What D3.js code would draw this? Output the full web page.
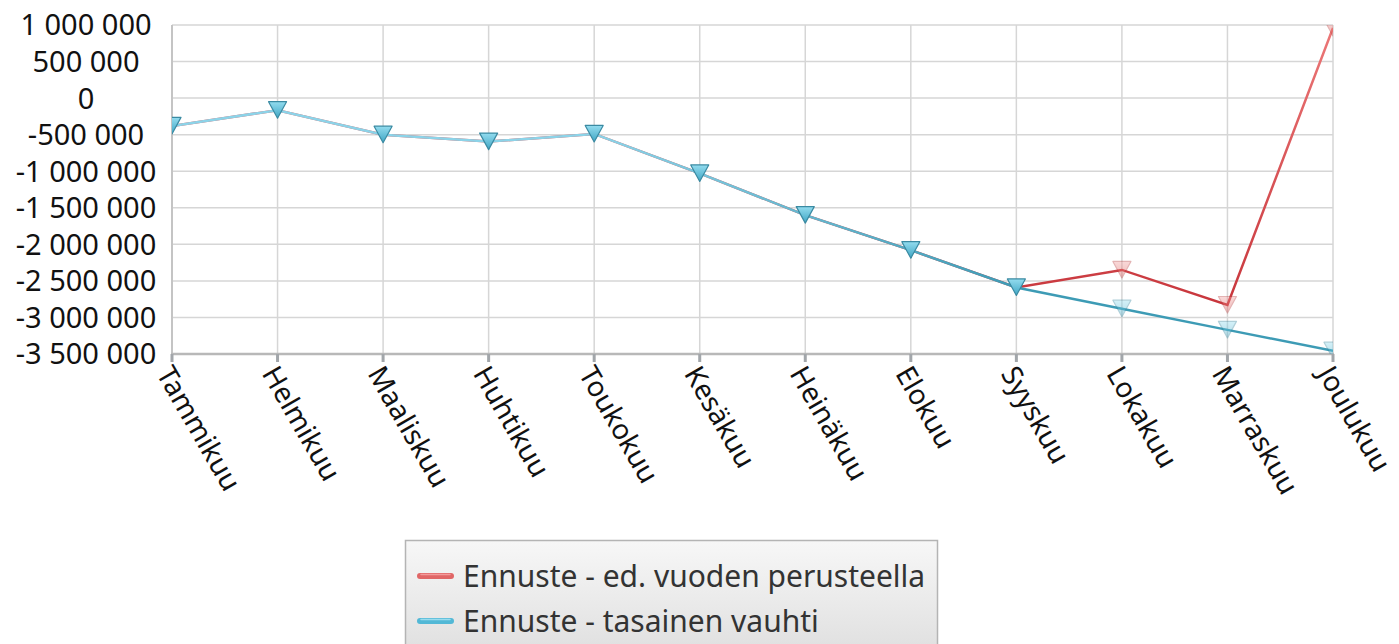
<!DOCTYPE html>
<html>
<head>
<meta charset="utf-8">
<script src="https://cdn.jsdelivr.net/npm/d3@7"></script>
<style>
  html, body { margin: 0; padding: 0; background: #fff; overflow: hidden; }
  text { font-family: "Noto Sans", "Open Sans", sans-serif; }
</style>
</head>
<body>
<svg id="chart" width="1399" height="644"></svg>
<script>
// ── Data ─────────────────────────────────────────────────────────────
const months = ['Tammikuu', 'Helmikuu', 'Maaliskuu', 'Huhtikuu', 'Toukokuu', 'Kesäkuu',
  'Heinäkuu', 'Elokuu', 'Syyskuu', 'Lokakuu', 'Marraskuu', 'Joulukuu'];

// Ennuste - ed. vuoden perusteella
const edVuosi = [-380000, -165000, -500000, -595000, -490000, -1030000,
  -1600000, -2080000, -2590000, -2350000, -2830000, 960000];

// Ennuste - tasainen vauhti
const tasainen = [-380000, -165000, -500000, -595000, -490000, -1030000,
  -1600000, -2080000, -2590000, -2880000, -3170000, -3455000];

const yTicks = [1000000, 500000, 0, -500000, -1000000, -1500000, -2000000,
  -2500000, -3000000, -3500000];

const seriesNames = ['Ennuste - ed. vuoden perusteella', 'Ennuste - tasainen vauhti'];
const firstForecast = 9; // Lokakuu onwards is forecast

// ── Layout ───────────────────────────────────────────────────────────
const svg = d3.select('#chart');
const plotL = 172, plotR = 1333, plotT = 25, plotB = 354;

const x = d3.scalePoint().domain(months).range([plotL, plotR]).padding(0);
const y = d3.scaleLinear().domain([-3500000, 1000000]).range([plotB, plotT]);

const fmt = v => d3.format(',')(v).replace(/,/g, ' ').replace('−', '-');

// ── Defs ─────────────────────────────────────────────────────────────
const defs = svg.append('defs');
defs.append('clipPath').attr('id', 'plot-clip')
  .append('rect').attr('x', plotL).attr('y', plotT)
  .attr('width', plotR - plotL).attr('height', plotB - plotT);

const blueLine = defs.append('linearGradient').attr('id', 'blue-line')
  .attr('gradientUnits', 'userSpaceOnUse')
  .attr('x1', x('Toukokuu')).attr('x2', x('Syyskuu')).attr('y1', 0).attr('y2', 0);
blueLine.append('stop').attr('offset', 0).attr('stop-color', '#8cd3e8');
blueLine.append('stop').attr('offset', 1).attr('stop-color', '#3d9bb5');

const redLine = defs.append('linearGradient').attr('id', 'red-line')
  .attr('gradientUnits', 'userSpaceOnUse')
  .attr('x1', 0).attr('x2', 0).attr('y1', y(-2800000)).attr('y2', y(1000000));
redLine.append('stop').attr('offset', 0).attr('stop-color', '#c8363c');
redLine.append('stop').attr('offset', 1).attr('stop-color', '#ec7878');

const blueMark = defs.append('linearGradient').attr('id', 'blue-mark')
  .attr('x1', 0).attr('x2', 0).attr('y1', 0).attr('y2', 1);
blueMark.append('stop').attr('offset', 0).attr('stop-color', '#93dcef');
blueMark.append('stop').attr('offset', 1).attr('stop-color', '#3fa6c4');

const redMark = defs.append('linearGradient').attr('id', 'red-mark')
  .attr('x1', 0).attr('x2', 0).attr('y1', 0).attr('y2', 1);
redMark.append('stop').attr('offset', 0).attr('stop-color', '#f2a0a0');
redMark.append('stop').attr('offset', 1).attr('stop-color', '#d9534f');

const legendBg = defs.append('linearGradient').attr('id', 'legend-bg')
  .attr('x1', 0).attr('x2', 0).attr('y1', 0).attr('y2', 1);
legendBg.append('stop').attr('offset', 0).attr('stop-color', '#f7f7f7');
legendBg.append('stop').attr('offset', 1).attr('stop-color', '#dedede');

// ── Grid ─────────────────────────────────────────────────────────────
const grid = svg.append('g');
grid.selectAll('line.h').data(yTicks).join('line')
  .attr('x1', plotL).attr('x2', plotR)
  .attr('y1', d => y(d)).attr('y2', d => y(d))
  .attr('stroke', '#d6d6d6').attr('stroke-width', 1.5);
grid.selectAll('line.v').data(months).join('line')
  .attr('x1', d => x(d)).attr('x2', d => x(d))
  .attr('y1', plotT).attr('y2', plotB)
  .attr('stroke', '#d6d6d6').attr('stroke-width', 1.5);

// axis lines
svg.append('line').attr('x1', plotL).attr('x2', plotL).attr('y1', plotT).attr('y2', plotB)
  .attr('stroke', '#c4c4c4').attr('stroke-width', 2);
svg.append('line').attr('x1', plotL - 1).attr('x2', plotR + 1).attr('y1', plotB).attr('y2', plotB)
  .attr('stroke', '#b8b8b8').attr('stroke-width', 2.5);

// x ticks
svg.append('g').selectAll('line').data(months).join('line')
  .attr('x1', d => x(d)).attr('x2', d => x(d))
  .attr('y1', plotB).attr('y2', plotB + 8)
  .attr('stroke', '#a2a6aa').attr('stroke-width', 3);

// y labels
svg.append('g').selectAll('text').data(yTicks).join('text')
  .attr('x', 86).attr('y', d => y(d))
  .attr('dy', '0.36em')
  .attr('text-anchor', 'middle')
  .attr('font-size', 29)
  .attr('fill', '#111')
  .text(d => fmt(d));

// x labels
svg.append('g').selectAll('text').data(months).join('text')
  .attr('transform', d => `translate(${x(d) + 2},${plotB + 9}) rotate(60)`)
  .attr('dy', '0.75em')
  .attr('text-anchor', 'start')
  .attr('font-size', 28)
  .attr('fill', '#111')
  .text(d => d);

// ── Series ───────────────────────────────────────────────────────────
const plot = svg.append('g').attr('clip-path', 'url(#plot-clip)');
const line = d3.line().x((d, i) => x(months[i])).y(d => y(d));

plot.append('path').datum(edVuosi)
  .attr('d', line).attr('fill', 'none')
  .attr('stroke', 'url(#red-line)').attr('stroke-width', 2.5);
plot.append('path').datum(tasainen)
  .attr('d', line).attr('fill', 'none')
  .attr('stroke', 'url(#blue-line)').attr('stroke-width', 2.5);

const tri = 'M-9,-8.5 L9,-8.5 L0,8 Z';

function markers(values, fill, stroke, from, to) {
  plot.append('g').selectAll('path')
    .data(values.map((v, i) => ({ v, i })).filter(d => d.i >= from && d.i < to))
    .join('path')
    .attr('transform', d => `translate(${x(months[d.i])},${y(d.v)})`)
    .attr('d', tri)
    .attr('fill', fill)
    .attr('stroke', stroke).attr('stroke-width', 1.2)
    .attr('stroke-linejoin', 'round')
    .attr('opacity', d => d.i >= firstForecast ? 0.4 : 1);
}

markers(edVuosi, 'url(#red-mark)', '#b44', firstForecast, months.length);
markers(tasainen, 'url(#blue-mark)', '#3a8aa2', 0, months.length);

// ── Legend ───────────────────────────────────────────────────────────
const legend = svg.append('g');
legend.append('rect')
  .attr('x', 405.5).attr('y', 540.5).attr('width', 532).attr('height', 120)
  .attr('fill', 'url(#legend-bg)').attr('stroke', '#b4b4b4').attr('stroke-width', 1.5);

const legendColors = [['#e06666', '#f39a9a'], ['#52b8d6', '#9adcee']];
const items = legend.selectAll('g.item').data(seriesNames).join('g')
  .attr('transform', (d, i) => `translate(0,${576 + i * 45})`);
items.append('line')
  .attr('x1', 420).attr('x2', 451).attr('y1', 0).attr('y2', 0)
  .attr('stroke', (d, i) => legendColors[i][0]).attr('stroke-width', 6)
  .attr('stroke-linecap', 'round');
items.append('line')
  .attr('x1', 421).attr('x2', 450).attr('y1', -1.5).attr('y2', -1.5)
  .attr('stroke', (d, i) => legendColors[i][1]).attr('stroke-width', 1.5)
  .attr('stroke-linecap', 'round');
items.append('text')
  .attr('x', 463).attr('y', 0).attr('dy', '0.36em')
  .attr('font-size', 30)
  .attr('fill', '#333')
  .text(d => d);
</script>
</body>
</html>
